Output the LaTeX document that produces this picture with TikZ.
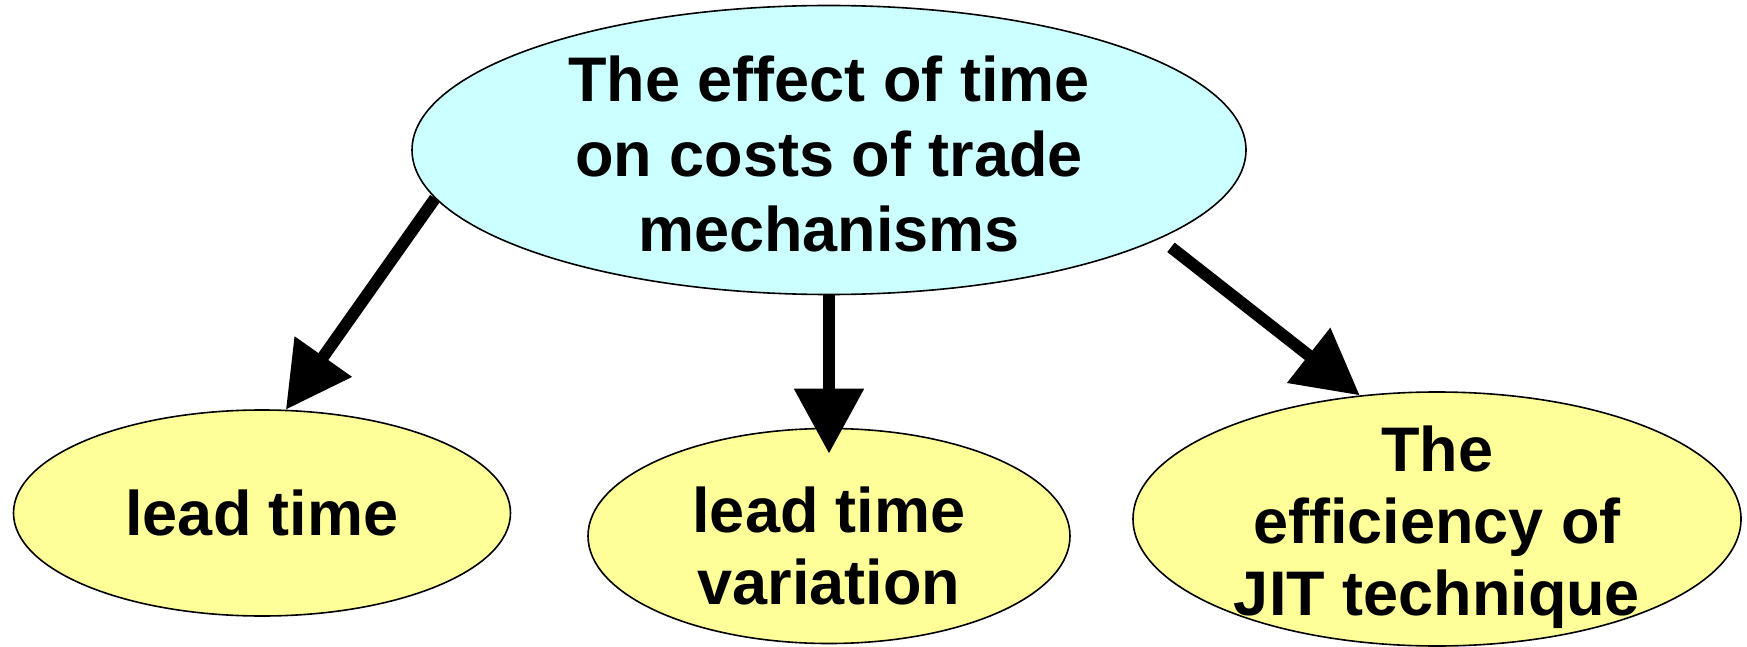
\documentclass[tikz,border=0pt]{standalone}
\usepackage{fontspec}
\setmainfont{Liberation Sans}
\usetikzlibrary{arrows.meta, shapes.geometric}
\definecolor{rootbg}{HTML}{CCFFFF}
\definecolor{leafbg}{HTML}{FFFF99}

\begin{document}
\begin{tikzpicture}[
    x=1pt, y=-1pt,
    font=\fontsize{63}{72}\selectfont\bfseries,
    oval/.style={ellipse, draw=black, line width=1.6pt, inner sep=0pt},
    root/.style={oval, fill=rootbg, minimum width=834pt, minimum height=289pt},
    leaf/.style={oval, fill=leafbg},
    txt/.style={align=center},
    ar/.style={-{Triangle[length=65pt, width=67pt]}, line width=12pt}
  ]
    \useasboundingbox (0,0) rectangle (1747,647);
    \node[root, label={[txt, yshift=-4pt, font=\fontsize{63}{75}\selectfont\bfseries]center:The effect of time\\on costs of trade\\mechanisms}] (eff) at (829,150) {};
    \node[leaf, minimum width=497pt, minimum height=206pt, label={[txt]center:lead time}] (lt) at (262,513) {};
    \node[leaf, minimum width=482pt, minimum height=215pt, label={[txt, yshift=-10pt]center:lead time\\variation}] (ltv) at (829,536) {};
    \node[leaf, minimum width=608pt, minimum height=254pt, label={[txt, yshift=-8pt]center:The\\efficiency of\\JIT technique}] (jit) at (1437,519) {};
    \draw[ar] (eff.187) -- (lt.77);
    \draw[ar] (eff.south) -- ([yshift=-26pt]ltv.north);
    \draw[ar, shorten <=14pt] (eff.345) -- (jit.122);
  \end{tikzpicture}
\end{document}
